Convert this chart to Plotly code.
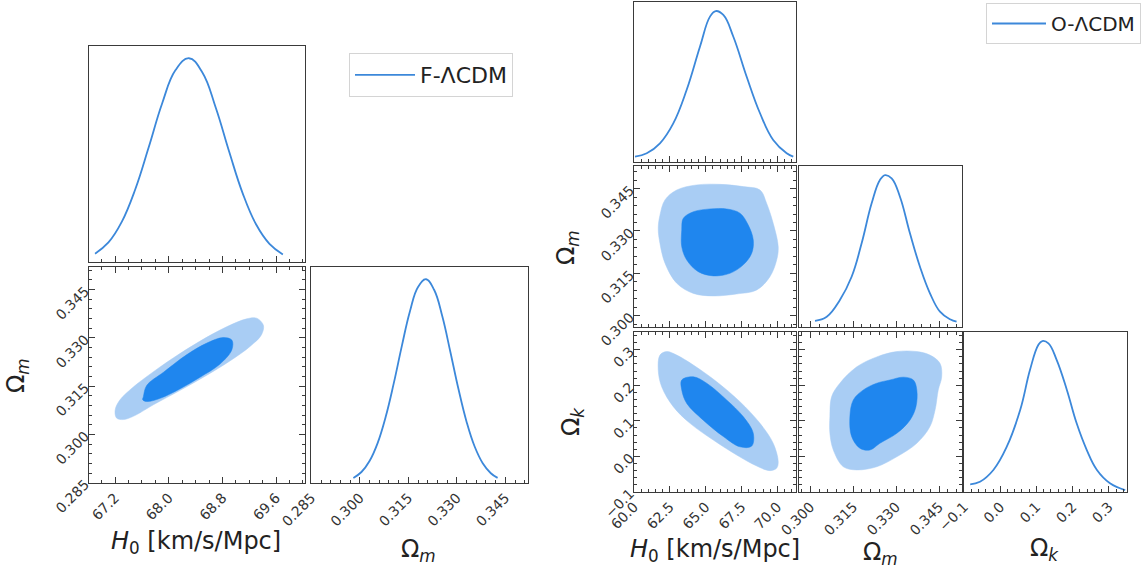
import plotly.graph_objects as go

W, H = 1145, 569

# ---------------- data : F-LCDM (left corner plot) ----------------
f_h0_grid = [66.90, 67.10, 67.30, 67.50, 67.70, 67.90, 68.10, 68.30, 68.50, 68.70, 68.90, 69.10, 69.30, 69.50, 69.70]
f_h0_pdf = [0.041, 0.096, 0.198, 0.357, 0.563, 0.778, 0.942, 1.000, 0.930, 0.757, 0.541, 0.338, 0.185, 0.089, 0.037]

f_om_grid = [0.2980, 0.3005, 0.3030, 0.3055, 0.3080, 0.3105, 0.3130, 0.3155, 0.3180, 0.3205,
             0.3230, 0.3255, 0.3280, 0.3305, 0.3330, 0.3355, 0.3380, 0.3405, 0.3426]
f_om_pdf = [0.025, 0.054, 0.108, 0.196, 0.325, 0.490, 0.673, 0.843, 0.962, 1.000,
            0.947, 0.818, 0.643, 0.461, 0.301, 0.179, 0.097, 0.048, 0.025]

f_out_h0 = [67.20, 67.27, 67.47, 67.72, 68.07, 68.46, 68.86, 69.16, 69.31, 69.41,
            69.38, 69.21, 68.91, 68.56, 68.17, 67.77, 67.47, 67.32, 67.22]
f_out_om = [0.3076, 0.3107, 0.3147, 0.3187, 0.3238, 0.3289, 0.3334, 0.3359, 0.3361, 0.3339,
            0.3309, 0.3273, 0.3228, 0.3183, 0.3137, 0.3092, 0.3056, 0.3046, 0.3051]
f_in_h0 = [67.62, 67.67, 67.92, 68.27, 68.56, 68.81, 68.94, 68.94, 68.76, 68.46, 68.17, 67.87, 67.67, 67.61]
f_in_om = [0.3117, 0.3152, 0.3193, 0.3248, 0.3283, 0.3301, 0.3293, 0.3263, 0.3218, 0.3177, 0.3142, 0.3112, 0.3102, 0.3108]

# ---------------- data : O-LCDM (right corner plot) ----------------
o_h0_grid = [60.07, 60.89, 61.81, 62.74, 63.67, 64.60, 65.30, 65.70, 66.23, 66.93, 67.86, 68.79, 69.71, 70.65, 71.11]
o_h0_pdf = [0.035, 0.058, 0.124, 0.256, 0.477, 0.764, 0.963, 1.000, 0.974, 0.830, 0.565, 0.323, 0.146, 0.058, 0.035]

o_om_grid = [0.3016, 0.3057, 0.3103, 0.3144, 0.3179, 0.3214, 0.3243, 0.3261, 0.3284, 0.3313,
             0.3348, 0.3383, 0.3418, 0.3453, 0.3488, 0.3511]
o_om_pdf = [0.041, 0.068, 0.178, 0.331, 0.551, 0.814, 0.968, 1.000, 0.979, 0.858,
            0.617, 0.397, 0.222, 0.101, 0.051, 0.035]

o_ok_grid = [-0.083, -0.056, -0.019, 0.018, 0.055, 0.082, 0.105, 0.116, 0.133, 0.156,
             0.184, 0.211, 0.239, 0.267, 0.303, 0.345]
o_ok_pdf = [0.051, 0.068, 0.146, 0.300, 0.543, 0.808, 0.974, 1.000, 0.985, 0.874,
            0.676, 0.455, 0.278, 0.146, 0.058, 0.013]

o_h0om_out_h0 = [61.81, 62.16, 62.98, 64.37, 66.00, 67.62, 68.79, 69.25, 69.71, 70.06,
                 69.95, 69.48, 68.56, 67.16, 65.53, 64.14, 62.98, 62.16, 61.81, 61.69]
o_h0om_out_om = [0.3356, 0.3410, 0.3445, 0.3463, 0.3465, 0.3457, 0.3445, 0.3398, 0.3327, 0.3244,
                 0.3197, 0.3138, 0.3091, 0.3077, 0.3070, 0.3079, 0.3115, 0.3186, 0.3256, 0.3309]
o_h0om_in_h0 = [63.33, 63.44, 64.14, 65.30, 66.46, 67.39, 67.97, 68.32, 68.21, 67.62, 66.69, 65.53, 64.48, 63.68, 63.33]
o_h0om_in_om = [0.3303, 0.3345, 0.3368, 0.3378, 0.3378, 0.3363, 0.3321, 0.3268, 0.3221, 0.3180, 0.3150, 0.3141, 0.3156, 0.3197, 0.3244]

o_h0ok_out_h0 = [61.81, 62.28, 62.98, 64.14, 65.77, 67.39, 68.79, 69.71, 70.06, 69.95,
                 69.48, 68.56, 67.16, 65.53, 63.91, 62.74, 61.93, 61.69]
o_h0ok_out_ok = [0.285, 0.295, 0.285, 0.257, 0.210, 0.154, 0.093, 0.037, -0.015, -0.033,
                 -0.040, -0.027, 0.004, 0.046, 0.093, 0.140, 0.196, 0.243]
o_h0ok_in_h0 = [63.33, 64.14, 65.07, 66.46, 67.62, 68.32, 68.21, 67.39, 66.23, 64.83, 63.68, 63.33]
o_h0ok_in_ok = [0.215, 0.224, 0.206, 0.159, 0.112, 0.065, 0.029, 0.027, 0.056, 0.102, 0.149, 0.187]

o_omok_out_om = [0.3068, 0.3074, 0.3103, 0.3162, 0.3232, 0.3302, 0.3372, 0.3418, 0.3453, 0.3459,
                 0.3447, 0.3436, 0.3418, 0.3372, 0.3302, 0.3232, 0.3162, 0.3115, 0.3080, 0.3068]
o_omok_out_ok = [0.112, 0.168, 0.206, 0.252, 0.280, 0.295, 0.295, 0.285, 0.262, 0.224,
                 0.187, 0.131, 0.084, 0.037, -0.001, -0.029, -0.038, -0.029, 0.018, 0.065]
o_omok_in_om = [0.3138, 0.3150, 0.3185, 0.3232, 0.3278, 0.3325, 0.3360, 0.3372, 0.3369, 0.3348,
                0.3302, 0.3243, 0.3208, 0.3173, 0.3144]
o_omok_in_ok = [0.112, 0.159, 0.187, 0.206, 0.215, 0.223, 0.215, 0.187, 0.140, 0.102,
                0.065, 0.037, 0.018, 0.023, 0.056]

# ---------------- ticks ----------------
f_h0_ticks = [67.2, 68.0, 68.8, 69.6]
f_h0_labels = ["67.2", "68.0", "68.8", "69.6"]
f_om_ticks = [0.285, 0.300, 0.315, 0.330, 0.345]
f_om_labels = ["0.285", "0.300", "0.315", "0.330", "0.345"]
o_h0_ticks = [60.0, 62.5, 65.0, 67.5, 70.0]
o_h0_labels = ["60.0", "62.5", "65.0", "67.5", "70.0"]
o_om_ticks = [0.300, 0.315, 0.330, 0.345]
o_om_labels = ["0.300", "0.315", "0.330", "0.345"]
o_ok_ticks = [-0.1, 0.0, 0.1, 0.2, 0.3]
o_ok_labels = ["\u22120.1", "0.0", "0.1", "0.2", "0.3"]

series_names = ["F-\u039bCDM", "O-\u039bCDM"]

# ---------------- axis ranges ----------------
f_h0_range = [66.81, 70.03]
f_om_range = [0.2849, 0.352]
o_h0_range = [60.0, 71.3]
o_om_range = [0.296, 0.353]
o_ok_range = [-0.1001, 0.35]
pdf_range = [0, 1.06]

# ---------------- style ----------------
LINE = '#3C88DA'
DARK = '#1F86EE'
LIGHT = '#A9CDF4'
FRAME = '#3a3a3a'
FONT = 'DejaVu Sans'
TICKFONT = dict(family=FONT, size=14, color='#333')


def dx(l, r):
    return [l / W, r / W]


def dy(t, b):
    return [1 - b / H, 1 - t / H]


def closed(a):
    return list(a) + [a[0]]


fig = go.Figure()


def ids(i):
    return ('x' if i == 1 else f'x{i}'), ('y' if i == 1 else f'y{i}')


def add_1d(i, x, y, name=None, legend=None):
    xa, ya = ids(i)
    fig.add_trace(go.Scatter(x=x, y=y, mode='lines', xaxis=xa, yaxis=ya,
                             line=dict(color=LINE, width=1.8, shape='spline', smoothing=1.2),
                             name=name or '', showlegend=name is not None,
                             legend=legend or 'legend', hoverinfo='skip'))


def add_2d(i, xo, yo, xi, yi):
    xa, ya = ids(i)
    fig.add_trace(go.Scatter(x=closed(xo), y=closed(yo), mode='lines', fill='toself',
                             fillcolor=LIGHT, line=dict(color=LIGHT, width=0.5, shape='spline', smoothing=1.0),
                             xaxis=xa, yaxis=ya, showlegend=False, hoverinfo='skip'))
    fig.add_trace(go.Scatter(x=closed(xi), y=closed(yi), mode='lines', fill='toself',
                             fillcolor=DARK, line=dict(color=DARK, width=0.5, shape='spline', smoothing=1.0),
                             xaxis=xa, yaxis=ya, showlegend=False, hoverinfo='skip'))


# left
add_1d(1, f_h0_grid, f_h0_pdf, name=series_names[0], legend='legend')
add_2d(2, f_out_h0, f_out_om, f_in_h0, f_in_om)
add_1d(3, f_om_grid, f_om_pdf)
# right
add_1d(4, o_h0_grid, o_h0_pdf, name=series_names[1], legend='legend2')
add_2d(5, o_h0om_out_h0, o_h0om_out_om, o_h0om_in_h0, o_h0om_in_om)
add_2d(6, o_h0ok_out_h0, o_h0ok_out_ok, o_h0ok_in_h0, o_h0ok_in_ok)
add_1d(7, o_om_grid, o_om_pdf)
add_2d(8, o_omok_out_om, o_omok_out_ok, o_omok_in_om, o_omok_in_ok)
add_1d(9, o_ok_grid, o_ok_pdf)


def axis(domain, rng, anchor, tickvals=None, ticktext=None, labels=False,
         mirror='allticks', ticks='inside', minor=None):
    d = dict(domain=domain, range=rng, anchor=anchor, showline=True, linecolor=FRAME,
             linewidth=1.3, mirror=mirror, showgrid=False, zeroline=False, automargin=False,
             ticks=ticks, ticklen=6, tickwidth=1, tickcolor=FRAME, tickfont=TICKFONT,
             showticklabels=labels, tickangle=-45, fixedrange=True)
    if tickvals is not None:
        d.update(tickmode='array', tickvals=tickvals, ticktext=ticktext)
    if minor is not None:
        d['minor'] = dict(ticks='inside', dtick=minor, tick0=0, ticklen=3, tickcolor=FRAME, tickwidth=1)
    return d


def pdf_axis(domain, anchor):
    return dict(domain=domain, range=pdf_range, anchor=anchor, showline=True, linecolor=FRAME,
                linewidth=1.3, mirror=True, showgrid=False, zeroline=False, ticks='',
                automargin=False, showticklabels=False, fixedrange=True)


layout = dict(
    width=W, height=H, margin=dict(l=0, r=0, t=0, b=0, autoexpand=False),
    paper_bgcolor='white', plot_bgcolor='white',
    font=dict(family=FONT, color='#222'),
)
# left panel boxes
A_x = dx(89, 305); A3_x = dx(311, 528)
A1_y = dy(46, 262); A2_y = dy(267, 483)
layout['xaxis'] = axis(A_x, f_h0_range, 'y', f_h0_ticks, f_h0_labels, False, mirror=True, minor=0.2)
layout['yaxis'] = pdf_axis(A1_y, 'x')
layout['xaxis2'] = axis(A_x, f_h0_range, 'y2', f_h0_ticks, f_h0_labels, True, minor=0.2)
layout['yaxis2'] = axis(A2_y, f_om_range, 'x2', f_om_ticks, f_om_labels, True, minor=0.003)
layout['xaxis3'] = axis(A3_x, f_om_range, 'y3', f_om_ticks, f_om_labels, True, mirror=True, minor=0.003)
layout['yaxis3'] = pdf_axis(A2_y, 'x3')

# right panel boxes
B1_x = dx(634, 796); B2_x = dx(799, 962); B3_x = dx(964, 1127)
R1_y = dy(2, 162); R2_y = dy(166, 327); R3_y = dy(332, 492)
layout['xaxis4'] = axis(B1_x, o_h0_range, 'y4', o_h0_ticks, o_h0_labels, False, mirror=True, minor=0.5)
layout['yaxis4'] = pdf_axis(R1_y, 'x4')
layout['xaxis5'] = axis(B1_x, o_h0_range, 'y5', o_h0_ticks, o_h0_labels, False, minor=0.5)
layout['yaxis5'] = axis(R2_y, o_om_range, 'x5', o_om_ticks, o_om_labels, True, minor=0.003)
layout['xaxis6'] = axis(B1_x, o_h0_range, 'y6', o_h0_ticks, o_h0_labels, True, minor=0.5)
layout['yaxis6'] = axis(R3_y, o_ok_range, 'x6', o_ok_ticks, o_ok_labels, True, minor=0.02)
layout['xaxis7'] = axis(B2_x, o_om_range, 'y7', o_om_ticks, o_om_labels, False, mirror=True, minor=0.003)
layout['yaxis7'] = pdf_axis(R2_y, 'x7')
layout['xaxis8'] = axis(B2_x, o_om_range, 'y8', o_om_ticks, o_om_labels, True, minor=0.003)
layout['yaxis8'] = axis(R3_y, o_ok_range, 'x8', o_ok_ticks, o_ok_labels, False, minor=0.02)
layout['xaxis9'] = axis(B3_x, o_ok_range, 'y9', o_ok_ticks, o_ok_labels, True, mirror=True, minor=0.02)
layout['yaxis9'] = pdf_axis(R3_y, 'x9')

legend_style = dict(bgcolor='white', bordercolor='#d4d4d4', borderwidth=1,
                    xanchor='left', yanchor='top')
layout['legend'] = dict(legend_style, x=349 / W, y=1 - 53 / H, itemwidth=60,
                        font=dict(family=FONT, size=22, color='#222'))
layout['legend2'] = dict(legend_style, x=986 / W, y=1 - 3 / H, itemwidth=54,
                         font=dict(family=FONT, size=20, color='#222'))

H0_T = "<i>H</i><sub>0</sub> [km/s/Mpc]"
OM_T = "\u03a9<sub><i>m</i></sub>"
OK_T = "\u03a9<sub><i>k</i></sub>"
titles = [
    (H0_T, 196, 542, 0), (OM_T, 418, 550, 0), (OM_T, 17, 376, -90),
    (H0_T, 715, 550, 0), (OM_T, 880, 553, 0), (OK_T, 1044, 549, 0),
    (OM_T, 568, 248, -90), (OK_T, 572, 422, -90),
]
layout['annotations'] = [
    dict(text=t, x=px / W, y=1 - py / H, xref='paper', yref='paper', showarrow=False,
         xanchor='center', yanchor='middle', textangle=ang,
         font=dict(family=FONT, size=24, color='#222'))
    for t, px, py, ang in titles
]

fig.update_layout(**layout)
fig.write_html("out.html")
